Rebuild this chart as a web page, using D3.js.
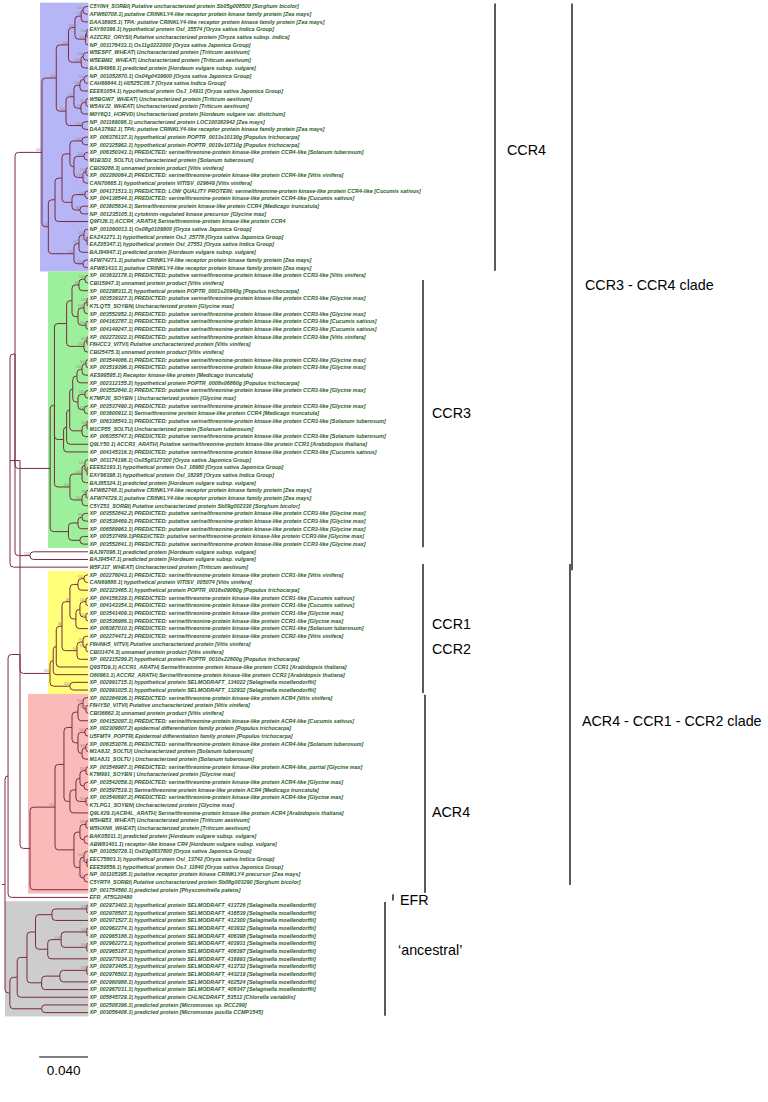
<!DOCTYPE html>
<html><head><meta charset="utf-8">
<script src="https://cdn.jsdelivr.net/npm/d3@7"></script>
<style>body{margin:0;background:#fff}svg{display:block}</style>
</head><body><svg id="c" width="768" height="1102"></svg>
<script>
// ---------------- DATA ----------------
const leafLabels = [
"C5YIN4_SORBI| Putative uncharacterized protein Sb05g008500 [Sorghum bicolor]",
"AFW60708.1| putative CRINKLY4-like receptor protein kinase family protein [Zea mays]",
"DAA38905.1| TPA: putative CRINKLY4-like receptor protein kinase family protein [Zea mays]",
"EAY80396.1| hypothetical protein OsI_35574 [Oryza sativa Indica Group]",
"A2ZCR2_ORYSI| Putative uncharacterized protein [Oryza sativa subsp. indica]",
"NP_001176433.1| Os11g0222000 [Oryza sativa Japonica Group]",
"W5ESP7_WHEAT| Uncharacterized protein [Triticum aestivum]",
"W5EBM2_WHEAT| Uncharacterized protein [Triticum aestivum]",
"BAJ94969.1| predicted protein [Hordeum vulgare subsp. vulgare]",
"NP_001052870.1| Os04g0439600 [Oryza sativa Japonica Group]",
"CAH66844.1| H0525C06.7 [Oryza sativa Indica Group]",
"EEE61054.1| hypothetical protein OsJ_14911 [Oryza sativa Japonica Group]",
"W5BGW7_WHEAT| Uncharacterized protein [Triticum aestivum]",
"W5AVJ2_WHEAT| Uncharacterized protein [Triticum aestivum]",
"M0Y6Q1_HORVD| Uncharacterized protein [Hordeum vulgare var. distichum]",
"NP_001169098.1| uncharacterized protein LOC100382942 [Zea mays]",
"DAA37692.1| TPA: putative CRINKLY4-like receptor protein kinase family protein [Zea mays]",
"XP_006376137.1| hypothetical protein POPTR_0013s10130g [Populus trichocarpa]",
"XP_002325962.1| hypothetical protein POPTR_0019s10710g [Populus trichocarpa]",
"XP_006350343.1| PREDICTED: serine/threonine-protein kinase-like protein CCR4-like [Solanum tuberosum]",
"M1B3D3_SOLTU| Uncharacterized protein [Solanum tuberosum]",
"CBI29288.3| unnamed protein product [Vitis vinifera]",
"XP_002280064.2| PREDICTED: serine/threonine-protein kinase-like protein CCR4-like [Vitis vinifera]",
"CAN70665.1| hypothetical protein VITISV_029649 [Vitis vinifera]",
"XP_004171513.1| PREDICTED: LOW QUALITY PROTEIN: serine/threonine-protein kinase-like protein CCR4-like [Cucumis sativus]",
"XP_004138544.1| PREDICTED: serine/threonine-protein kinase-like protein CCR4-like [Cucumis sativus]",
"XP_003605634.1| Serine/threonine protein kinase-like protein CCR4 [Medicago truncatula]",
"NP_001235105.1| cytokinin-regulated kinase precursor [Glycine max]",
"Q9FIJ6.1| ACCR4_ARATH| Serine/threonine-protein kinase-like protein CCR4",
"NP_001060013.1| Os08g0109800 [Oryza sativa Japonica Group]",
"EAZ41271.1| hypothetical protein OsJ_25778 [Oryza sativa Japonica Group]",
"EAZ05347.1| hypothetical protein OsI_27551 [Oryza sativa Indica Group]",
"BAJ94647.1| predicted protein [Hordeum vulgare subsp. vulgare]",
"AFW74271.1| putative CRINKLY4-like receptor protein kinase family protein [Zea mays]",
"AFW81433.1| putative CRINKLY4-like receptor protein kinase family protein [Zea mays]",
"XP_003632178.1| PREDICTED: putative serine/threonine-protein kinase-like protein CCR3-like [Vitis vinifera]",
"CBI15947.3| unnamed protein product [Vitis vinifera]",
"XP_002298311.2| hypothetical protein POPTR_0001s20940g [Populus trichocarpa]",
"XP_003539327.1| PREDICTED: putative serine/threonine-protein kinase-like protein CCR3-like [Glycine max]",
"K7LQT5_SOYBN| Uncharacterized protein [Glycine max]",
"XP_003552952.1| PREDICTED: putative serine/threonine-protein kinase-like protein CCR3-like [Glycine max]",
"XP_004163787.1| PREDICTED: putative serine/threonine-protein kinase-like protein CCR3-like [Cucumis sativus]",
"XP_004149247.1| PREDICTED: putative serine/threonine-protein kinase-like protein CCR3-like [Cucumis sativus]",
"XP_002272022.1| PREDICTED: putative serine/threonine-protein kinase-like protein CCR3-like [Vitis vinifera]",
"F6HCC3_VITVI| Putative uncharacterized protein [Vitis vinifera]",
"CBI25475.3| unnamed protein product [Vitis vinifera]",
"XP_003544086.1| PREDICTED: putative serine/threonine-protein kinase-like protein CCR3-like [Glycine max]",
"XP_003519396.1| PREDICTED: putative serine/threonine-protein kinase-like protein CCR3-like [Glycine max]",
"AES99595.1| Receptor kinase-like protein [Medicago truncatula]",
"XP_002312155.2| hypothetical protein POPTR_0008s06860g [Populus trichocarpa]",
"XP_003552840.1| PREDICTED: putative serine/threonine-protein kinase-like protein CCR3-like [Glycine max]",
"K7MPJ0_SOYBN | Uncharacterized protein [Glycine max]",
"XP_003537490.1| PREDICTED: putative serine/threonine-protein kinase-like protein CCR3-like [Glycine max]",
"XP_003600912.1| Serine/threonine protein kinase-like protein CCR4 [Medicago truncatula]",
"XP_006338543.1| PREDICTED: putative serine/threonine-protein kinase-like protein CCR3-like [Solanum tuberosum]",
"M1CP55_SOLTU| Uncharacterized protein [Solanum tuberosum]",
"XP_006355747.1| PREDICTED: putative serine/threonine-protein kinase-like protein CCR3-like [Solanum tuberosum]",
"Q9LY50.1| ACCR3_ARATH| Putative serine/threonine-protein kinase-like protein CCR3 [Arabidopsis thaliana]",
"XP_004145316.1| PREDICTED: putative serine/threonine-protein kinase-like protein CCR3-like [Cucumis sativus]",
"NP_001174196.1| Os05g0127300 [Oryza sativa Japonica Group]",
"EEE62193.1| hypothetical protein OsJ_16980 [Oryza sativa Japonica Group]",
"EAY96398.1| hypothetical protein OsI_18295 [Oryza sativa Indica Group]",
"BAJ85324.1| predicted protein [Hordeum vulgare subsp. vulgare]",
"AFW82748.1| putative CRINKLY4-like receptor protein kinase family protein [Zea mays]",
"AFW74729.1| putative CRINKLY4-like receptor protein kinase family protein [Zea mays]",
"C5YZ53_SORBI| Putative uncharacterized protein Sb09g002330 [Sorghum bicolor]",
"XP_003552842.2| PREDICTED: putative serine/threonine-protein kinase-like protein CCR3-like [Glycine max]",
"XP_003538469.2| PREDICTED: putative serine/threonine-protein kinase-like protein CCR3-like [Glycine max]",
"XP_006589963.1| PREDICTED: putative serine/threonine-protein kinase-like protein CCR3-like [Glycine max]",
"XP_003537489.1|PREDICTED: putative serine/threonine-protein kinase-like protein CCR3-like [Glycine max]",
"XP_003552841.1| PREDICTED: putative serine/threonine-protein kinase-like protein CCR3-like [Glycine max]",
"BAJ97098.1| predicted protein [Hordeum vulgare subsp. vulgare]",
"BAJ94547.1| predicted protein [Hordeum vulgare subsp. vulgare]",
"W5FJ17_WHEAT| Uncharacterized protein [Triticum aestivum]",
"XP_002276043.1| PREDICTED: serine/threonine-protein kinase-like protein CCR1-like [Vitis vinifera]",
"CAN69888.1| hypothetical protein VITISV_005074 [Vitis vinifera]",
"XP_002323465.1| hypothetical protein POPTR_0016s09060g [Populus trichocarpa]",
"XP_004156339.1| PREDICTED: serine/threonine-protein kinase-like protein CCR1-like [Cucumis sativus]",
"XP_004143354.1| PREDICTED: serine/threonine-protein kinase-like protein CCR1-like [Cucumis sativus]",
"XP_003541409.1| PREDICTED: serine/threonine-protein kinase-like protein CCR1-like [Glycine max]",
"XP_003536986.1| PREDICTED: serine/threonine-protein kinase-like protein CCR1-like [Glycine max]",
"XP_006367010.1| PREDICTED: serine/threonine-protein kinase-like protein CCR1-like [Solanum tuberosum]",
"XP_002274471.2| PREDICTED: serine/threonine-protein kinase-like protein CCR2-like [Vitis vinifera]",
"F6HNH5_VITVI| Putative uncharacterized protein [Vitis vinifera]",
"CBI31474.3| unnamed protein product [Vitis vinifera]",
"XP_002315299.2| hypothetical protein POPTR_0010s22800g [Populus trichocarpa]",
"Q9STD9.1| ACCR1_ARATH| Serine/threonine-protein kinase-like protein CCR1 [Arabidopsis thaliana]",
"O80963.1| ACCR2_ARATH| Serine/threonine-protein kinase-like protein CCR2 [Arabidopsis thaliana]",
"XP_002991715.1| hypothetical protein SELMODRAFT_134022 [Selaginella moellendorffii]",
"XP_002991025.1| hypothetical protein SELMODRAFT_132932 [Selaginella moellendorffii]",
"XP_002264936.1| PREDICTED: serine/threonine-protein kinase-like protein ACR4 [Vitis vinifera]",
"F6HYS0_VITVI| Putative uncharacterized protein [Vitis vinifera]",
"CBI36662.3| unnamed protein product [Vitis vinifera]",
"XP_004152097.1| PREDICTED: serine/threonine-protein kinase-like protein ACR4-like [Cucumis sativus]",
"XP_002309807.2| epidermal differentiation family protein [Populus trichocarpa]",
"U5FMT4_POPTR| Epidermal differentiation family protein [Populus trichocarpa]",
"XP_006353076.1| PREDICTED: serine/threonine-protein kinase-like protein ACR4-like [Solanum tuberosum]",
"M1A8J2_SOLTU| Uncharacterized protein [Solanum tuberosum]",
"M1A8J1_SOLTU | Uncharacterized protein [Solanum tuberosum]",
"XP_003546987.1| PREDICTED: serine/threonine-protein kinase-like protein ACR4-like, partial [Glycine max]",
"K7M991_SOYBN | Uncharacterized protein [Glycine max]",
"XP_003542059.1| PREDICTED: serine/threonine-protein kinase-like protein ACR4-like [Glycine max]",
"XP_003597519.1| Serine/threonine protein kinase-like protein ACR4 [Medicago truncatula]",
"XP_003540697.2| PREDICTED: serine/threonine-protein kinase-like protein ACR4-like [Glycine max]",
"K7LPG1_SOYBN| Uncharacterized protein [Glycine max]",
"Q9LX29.1|ACR4L_ARATH| Serine/threonine-protein kinase-like protein ACR4 [Arabidopsis thaliana]",
"W5HB53_WHEAT| Uncharacterized protein [Triticum aestivum]",
"W5HXN6_WHEAT| Uncharacterized protein [Triticum aestivum]",
"BAK05011.1| predicted protein [Hordeum vulgare subsp. vulgare]",
"ABW81401.1| receptor-like kinase CR4 [Hordeum vulgare subsp. vulgare]",
"NP_001050726.1| Os03g0637800 [Oryza sativa Japonica Group]",
"EEC75803.1| hypothetical protein OsI_13742 [Oryza sativa Indica Group]",
"EEE59556.1| hypothetical protein OsJ_11840 [Oryza sativa Japonica Group]",
"NP_001105395.1| putative receptor protein kinase CRINKLY4 precursor [Zea mays]",
"C5YRT4_SORBI| Putative uncharacterized protein Sb08g003290 [Sorghum bicolor]",
"XP_001754560.1| predicted protein [Physcomitrella patens]",
"EFR_AT5G20480",
"XP_002973402.1| hypothetical protein SELMODRAFT_413726 [Selaginella moellendorffii]",
"XP_002978507.1| hypothetical protein SELMODRAFT_416539 [Selaginella moellendorffii]",
"XP_002971527.1| hypothetical protein SELMODRAFT_412300 [Selaginella moellendorffii]",
"XP_002962274.1| hypothetical protein SELMODRAFT_403932 [Selaginella moellendorffii]",
"XP_002965188.1| hypothetical protein SELMODRAFT_406398 [Selaginella moellendorffii]",
"XP_002962273.1| hypothetical protein SELMODRAFT_403931 [Selaginella moellendorffii]",
"XP_002965187.1| hypothetical protein SELMODRAFT_406397 [Selaginella moellendorffii]",
"XP_002977034.1| hypothetical protein SELMODRAFT_416993 [Selaginella moellendorffii]",
"XP_002973405.1| hypothetical protein SELMODRAFT_413732 [Selaginella moellendorffii]",
"XP_002976502.1| hypothetical protein SELMODRAFT_443219 [Selaginella moellendorffii]",
"XP_002960988.1| hypothetical protein SELMODRAFT_402524 [Selaginella moellendorffii]",
"XP_002967031.1| hypothetical protein SELMODRAFT_408347 [Selaginella moellendorffii]",
"XP_005845729.1| hypothetical protein CHLNCDRAFT_53512 [Chlorella variabilis]",
"XP_002508396.1| predicted protein [Micromonas sp. RCC299]",
"XP_003056408.1| predicted protein [Micromonas pusilla CCMP1545]"
];

// Tree topology: leaves are 1-based indices into leafLabels.
// Internal node annotation "bootstrap@depth" (depth = distance from root, subst./site).
const treeCCR4 = "((((((1,2)100@.0639,3)95@.0624,((4,5)100@.067,6)100@.066)100@.0573,((7,8)100@.064,9)100@.0624)100@.052,((((10,11)100@.0647,12)100@.0614,((13,14)100@.0663,15)97@.0622)100@.0565,(16,17)100@.0631)100@.05)100@.042,(((((18,19)100@.0631,((20,21)100@.0647,((22,23)100@.0663,24)100@.0639)57@.0565)@.0532,((25,26)100@.0655,(27,28)88@.0614)@.0549)@.0467,29)@.041,(((30,(31,32)100@.0672)100@.0647,33)100@.0606,(34,35)100@.0639)100@.0565)100@.0355)100@.0303";
const treeCCR3 = "(((((((36,37)100@.0655,38)98@.0606,(((39,40)100@.0672,41)100@.0647,(42,43)100@.0663)@.0598)@.0549,((44,45)100@.0672,46)100@.0647)@.0505,((((((((47,48)100@.0663,49)100@.0631,50)@.059,((51,52)100@.0655,(53,54)100@.0647)@.0598)@.0555,((55,56)100@.0672,57)@.0631)@.053,58)@.0505,59)@.048)@.0445,(((60,(61,62)100@.0672)100@.0655,63)100@.0631,((64,65)96@.0663,66)100@.0631)100@.0532)@.0405,(((67,68)99@.0631,69)@.0598,(70,71)@.0614)@.052)@.037";
const treeCCR12 = "((((((75,76)100@.0647,77)@.0598,(((78,79)100@.0663,(80,81)100@.0663)@.0614,82)@.0581)49@.0532,((83,(84,85)100@.0663)97@.0639,86)97@.059)46@.0467,87)@.042,88)@.0395,(89,90)100@.0532)100@.0369";
const treeACR4 = "((((((91,(92,93)100@.0663)100@.0639,94)@.0598,((95,96)100@.0655,((97,98)100@.0663,99)@.0631)@.0598)@.0549,((((100,101)100@.0663,(102,103)@.0647)@.0614,(104,105)100@.0663)@.0581,106)@.0532)@.0483,(((107,108)100@.0663,(109,110)@.0647)@.0614,((111,(112,113)100@.0672)100@.0647,(114,115)100@.0647)@.0614)@.0565)100@.041,116)@.0205";
const treeAncestral = "((((((118,119)100@.067,120)@.0385,(((121,122)100@.067,(123,124)100@.067)100@.046,125)@.035)@.025,(((126,127)100@.067,128)@.045,129)@.03)@.018,130)@.01,(131,132)@.03)@.004";
const treeNewick = "((((((" + treeCCR4 + "," + treeCCR3 + ")@.0123,(72,73)100@.0205)@.0082,74)@.0041,(" +
  treeCCR12 + "," + treeACR4 + ")@.0123)@.0057,117)@.0025," + treeAncestral + ")@0";

const tipDepth = 0.068;
const scaleBarValue = 0.04;
const scaleBarLabel = "0.040";

// shaded clades (leaf ranges) and depth where the shading begins
const boxFirst = [1, 36, 75, 91, 118];
const boxLast  = [35, 71, 90, 116, 132];
const boxDepth = [0.0287, 0.0352, 0.0352, 0.0188, 0.0];
const boxColors = ["#b6b6f6", "#9cf09c", "#ffff7a", "#fbbaba", "#cdcdcd"];

// bracket annotations
const bracketNames = [["CCR4"], ["CCR3"], ["CCR3 - CCR4 clade"], ["CCR1", "CCR2"], ["ACR4"], ["ACR4 - CCR1 - CCR2 clade"], ["EFR"], ["\u2018ancestral\u2019"]];
const bracketFirst = [1, 37, 1, 74, 91, 74, 117, 118];
const bracketLast  = [35, 71, 74, 90, 116, 115, 117, 132];

// ---------------- PARSE ----------------
function parseTree(s) {
  let i = 0;
  function node() {
    if (s[i] === "(") {
      i++;
      const ch = [node()];
      while (s[i] === ",") { i++; ch.push(node()); }
      i++; // ')'
      let lab = "";
      while (i < s.length && /[0-9.@]/.test(s[i])) lab += s[i++];
      const parts = lab.split("@");
      return { children: ch, bs: parts[0], depth: +parts[1] };
    } else {
      let num = "";
      while (/[0-9]/.test(s[i])) num += s[i++];
      return { leaf: +num };
    }
  }
  return node();
}

// ---------------- DRAW ----------------
const svg = d3.select("#c");
const n = leafLabels.length;
const x = d3.scaleLinear().domain([0, tipDepth]).range([5, 88]);
const y = d3.scaleLinear().domain([1, n]).range([6.5, 1012.6]);
const step = y(2) - y(1);
const FONT = "Liberation Sans, Arial, sans-serif";

// shaded boxes
boxFirst.forEach((f, k) => {
  svg.append("rect")
    .attr("x", x(boxDepth[k])).attr("y", y(f) - step / 2)
    .attr("width", x(tipDepth) + 0.5 - x(boxDepth[k]))
    .attr("height", y(boxLast[k]) - y(f) + step)
    .attr("fill", boxColors[k]);
});

const root = d3.hierarchy(parseTree(treeNewick), d => d.children);
root.eachAfter(d => {
  if (!d.children) { d.py = y(d.data.leaf); d.px = x(tipDepth); }
  else {
    d.py = (d.children[0].py + d.children[d.children.length - 1].py) / 2;
    d.px = x(d.data.depth);
  }
});

const linkPath = d => {
  const p = d.parent, px = p.px, py = p.py, cx = d.px, cy = d.py;
  const r = Math.min(3.5, Math.abs(cy - py), cx - px);
  const s = Math.sign(cy - py);
  if (r <= 0) return `M${px},${py}V${cy}H${cx}`;
  return `M${px},${py}V${cy - s * r}Q${px},${cy} ${px + r},${cy}H${cx}`;
};

svg.append("g").selectAll("path")
  .data(root.descendants().filter(d => d.parent))
  .join("path")
  .attr("d", linkPath)
  .attr("fill", "none")
  .attr("stroke", "#7a2b3c")
  .attr("stroke-width", 1);
svg.append("path").attr("d", `M${root.px - 3},${root.py}H${root.px}`).attr("stroke", "#7a2b3c").attr("stroke-width", 1);

// bootstrap values
svg.append("g").selectAll("text")
  .data(root.descendants().filter(d => d.children && d.data.bs))
  .join("text")
  .attr("x", d => d.px - 0.3).attr("y", d => d.py - 1)
  .attr("text-anchor", "end")
  .attr("font-family", FONT)
  .attr("font-size", 3.6).attr("fill", "#8c8c8c")
  .text(d => d.data.bs);

// leaf labels
svg.append("g").selectAll("text")
  .data(root.leaves())
  .join("text")
  .attr("x", d => d.px + 1.5).attr("y", d => d.py)
  .attr("dy", "0.35em")
  .attr("font-family", FONT)
  .attr("font-size", 5.4).attr("font-weight", "bold").attr("font-style", "italic")
  .attr("fill", "#2a5e26")
  .text(d => leafLabels[d.data.leaf - 1]);

// brackets
const bracketX = [495, 423, 572, 423, 425, 570, 393, 385];
const textDx = [12, 9, 13, 9, 7, 12, 7, 13];
const textDyPx = [13, -1, -2, 8, 18, -4, 3, -9];
bracketNames.forEach((names, k) => {
  const y0 = y(bracketFirst[k]) - step * 0.4, y1 = y(bracketLast[k]) + step * 0.4;
  svg.append("line").attr("x1", bracketX[k]).attr("x2", bracketX[k])
    .attr("y1", y0).attr("y2", y1).attr("stroke", "#000").attr("stroke-width", 1.3);
  const cy = (y0 + y1) / 2 + textDyPx[k];
  names.forEach((t, j) => {
    svg.append("text")
      .attr("x", bracketX[k] + textDx[k])
      .attr("y", cy + (j - (names.length - 1) / 2) * 25)
      .attr("dy", "0.35em")
      .attr("font-family", FONT)
      .attr("font-size", 14.3).attr("fill", "#000")
      .text(t);
  });
});

// scale bar
const sbY = 1057;
svg.append("line").attr("x1", x(tipDepth - scaleBarValue)).attr("x2", x(tipDepth))
  .attr("y1", sbY).attr("y2", sbY).attr("stroke", "#000").attr("stroke-width", 1.2);
svg.append("text").attr("x", (x(tipDepth - scaleBarValue) + x(tipDepth)) / 2).attr("y", sbY + 18)
  .attr("text-anchor", "middle").attr("font-family", FONT)
  .attr("font-size", 13.5).text(scaleBarLabel);
</script></body></html>
